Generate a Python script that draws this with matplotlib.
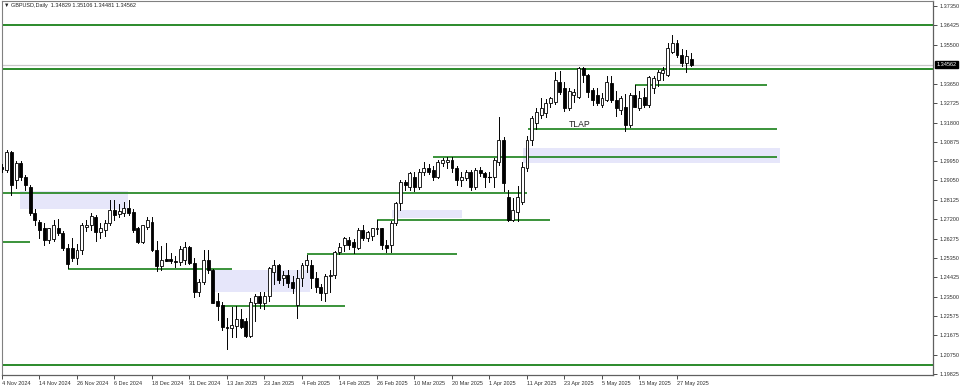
import matplotlib
matplotlib.use("Agg")
import matplotlib.pyplot as plt
from matplotlib.patches import Rectangle
from matplotlib import font_manager

plt.rcParams['font.family'] = ['Liberation Sans', 'DejaVu Sans']
names = {f.name for f in font_manager.fontManager.ttflist}
small_font = 'Liberation Sans Narrow' if 'Liberation Sans Narrow' in names else 'Liberation Sans'
small_size = 4.7 if small_font == 'Liberation Sans Narrow' else 4.0

# ---- data (GBPUSD daily, 4 Nov 2024 .. 30 May 2025) ----
opens = [1.2968, 1.2955, 1.3040, 1.2905, 1.2987, 1.2921, 1.2873, 1.2750, 1.2707, 1.2678,
         1.2621, 1.2625, 1.2678, 1.2654, 1.2583, 1.2585, 1.2535, 1.2572, 1.2683, 1.2690,
         1.2730, 1.2659, 1.2668, 1.2702, 1.2764, 1.2745, 1.2750, 1.2773, 1.2754, 1.2678,
         1.2611, 1.2683, 1.2707, 1.2573, 1.2497, 1.2530, 1.2530, 1.2522, 1.2518, 1.2525,
         1.2585, 1.2511, 1.2373, 1.2421, 1.2525, 1.2478, 1.2330, 1.2311, 1.2206, 1.2203,
         1.2211, 1.2244, 1.2235, 1.2164, 1.2321, 1.2354, 1.2321, 1.2354, 1.2468, 1.2502,
         1.2440, 1.2454, 1.2421, 1.2310, 1.2440, 1.2502, 1.2502, 1.2440, 1.2397, 1.2368,
         1.2450, 1.2455, 1.2564, 1.2597, 1.2621, 1.2611, 1.2583, 1.2668, 1.2630, 1.2640,
         1.2672, 1.2678, 1.2597, 1.2597, 1.2702, 1.2797, 1.2897, 1.2873, 1.2921, 1.2873,
         1.2945, 1.2964, 1.2954, 1.2921, 1.2988, 1.2990, 1.3002, 1.2964, 1.2907, 1.2916,
         1.2945, 1.2873, 1.2954, 1.2940, 1.2921, 1.2921, 1.2992, 1.3097, 1.2826, 1.2716,
         1.2754, 1.2802, 1.2964, 1.3097, 1.3178, 1.3216, 1.3225, 1.3273, 1.3278, 1.3373,
         1.3345, 1.3249, 1.3311, 1.3302, 1.3440, 1.3406, 1.3335, 1.3311, 1.3264, 1.3288,
         1.3368, 1.3288, 1.3240, 1.3254, 1.3168, 1.3311, 1.3249, 1.3300, 1.3264, 1.3345,
         1.3383, 1.3416, 1.3406, 1.3516, 1.3559, 1.3502, 1.3464, 1.34829]
highs = [1.2985, 1.3047, 1.3045, 1.2996, 1.2995, 1.2930, 1.2885, 1.2770, 1.2715, 1.2700,
         1.2680, 1.2715, 1.2720, 1.2665, 1.2600, 1.2630, 1.2600, 1.2700, 1.2715, 1.2750,
         1.2740, 1.2700, 1.2715, 1.2810, 1.2810, 1.2790, 1.2800, 1.2810, 1.2770, 1.2685,
         1.2690, 1.2730, 1.2730, 1.2615, 1.2590, 1.2605, 1.2560, 1.2545, 1.2590, 1.2610,
         1.2590, 1.2535, 1.2435, 1.2575, 1.2575, 1.2485, 1.2370, 1.2325, 1.2249, 1.2300,
         1.2306, 1.2290, 1.2250, 1.2345, 1.2365, 1.2375, 1.2375, 1.2490, 1.2525, 1.2505,
         1.2475, 1.2480, 1.2450, 1.2480, 1.2510, 1.2550, 1.2525, 1.2470, 1.2410, 1.2460,
         1.2480, 1.2570, 1.2605, 1.2635, 1.2635, 1.2625, 1.2680, 1.2690, 1.2665, 1.2680,
         1.2716, 1.2680, 1.2620, 1.2710, 1.2800, 1.2905, 1.2905, 1.2945, 1.2945, 1.2960,
         1.2990, 1.2985, 1.2975, 1.3000, 1.3010, 1.3015, 1.3015, 1.2975, 1.2945, 1.2955,
         1.2955, 1.2965, 1.2970, 1.2945, 1.2945, 1.3010, 1.3205, 1.3110, 1.2860, 1.2820,
         1.2880, 1.2990, 1.3115, 1.3210, 1.3250, 1.3295, 1.3290, 1.3300, 1.3421, 1.3425,
         1.3375, 1.3345, 1.3340, 1.3445, 1.3445, 1.3410, 1.3345, 1.3345, 1.3320, 1.3400,
         1.3400, 1.3330, 1.3305, 1.3315, 1.3320, 1.3357, 1.3330, 1.3345, 1.3400, 1.3400,
         1.3430, 1.3445, 1.3560, 1.3597, 1.3575, 1.3530, 1.3525, 1.35106]
lows = [1.2945, 1.2945, 1.2835, 1.2870, 1.2905, 1.2860, 1.2740, 1.2690, 1.2630, 1.2598,
        1.2605, 1.2615, 1.2645, 1.2575, 1.2487, 1.2520, 1.2505, 1.2555, 1.2665, 1.2670,
        1.2615, 1.2630, 1.2640, 1.2690, 1.2715, 1.2730, 1.2735, 1.2740, 1.2660, 1.2605,
        1.2605, 1.2675, 1.2570, 1.2475, 1.2478, 1.2520, 1.2510, 1.2490, 1.2500, 1.2505,
        1.2505, 1.2350, 1.2355, 1.2410, 1.2465, 1.2320, 1.2240, 1.2190, 1.2100, 1.2160,
        1.2160, 1.2200, 1.2160, 1.2160, 1.2235, 1.2295, 1.2290, 1.2330, 1.2410, 1.2415,
        1.2405, 1.2395, 1.2370, 1.2250, 1.2400, 1.2470, 1.2390, 1.2375, 1.2335, 1.2330,
        1.2375, 1.2440, 1.2555, 1.2570, 1.2580, 1.2560, 1.2578, 1.2620, 1.2615, 1.2620,
        1.2650, 1.2580, 1.2564, 1.2565, 1.2690, 1.2765, 1.2860, 1.2860, 1.2855, 1.2865,
        1.2930, 1.2935, 1.2905, 1.2915, 1.2975, 1.2965, 1.2945, 1.2885, 1.2880, 1.2905,
        1.2860, 1.2865, 1.2925, 1.2875, 1.2895, 1.2875, 1.2980, 1.2855, 1.2710, 1.2710,
        1.2710, 1.2790, 1.2950, 1.3075, 1.3150, 1.3200, 1.3205, 1.3255, 1.3270, 1.3315,
        1.3235, 1.3240, 1.3280, 1.3295, 1.3375, 1.3300, 1.3265, 1.3265, 1.3255, 1.3285,
        1.3280, 1.3210, 1.3220, 1.3140, 1.3160, 1.3255, 1.3240, 1.3255, 1.3255, 1.3320,
        1.3355, 1.3385, 1.3400, 1.3510, 1.3490, 1.3450, 1.3420, 1.34481]
closes = [1.2960, 1.3040, 1.2883, 1.2987, 1.2922, 1.2883, 1.2750, 1.2716, 1.2668, 1.2621,
          1.2678, 1.2690, 1.2654, 1.2583, 1.2505, 1.2535, 1.2572, 1.2690, 1.2690, 1.2735,
          1.2659, 1.2678, 1.2702, 1.2764, 1.2740, 1.2760, 1.2773, 1.2750, 1.2668, 1.2611,
          1.2690, 1.2716, 1.2573, 1.2497, 1.2525, 1.2520, 1.2522, 1.2518, 1.2580, 1.2585,
          1.2511, 1.2373, 1.2421, 1.2525, 1.2478, 1.2321, 1.2305, 1.2206, 1.2203, 1.2216,
          1.2244, 1.2206, 1.2164, 1.2326, 1.2354, 1.2321, 1.2354, 1.2487, 1.2502, 1.2430,
          1.2454, 1.2416, 1.2392, 1.2440, 1.2502, 1.2525, 1.2440, 1.2397, 1.2368, 1.2450,
          1.2455, 1.2564, 1.2588, 1.2630, 1.2597, 1.2588, 1.2668, 1.2630, 1.2660, 1.2678,
          1.2678, 1.2597, 1.2583, 1.2702, 1.2797, 1.2897, 1.2883, 1.2940, 1.2873, 1.2945,
          1.2964, 1.2945, 1.2921, 1.2992, 1.3002, 1.3000, 1.2964, 1.2907, 1.2920, 1.2945,
          1.2873, 1.2954, 1.2940, 1.2921, 1.2923, 1.3002, 1.3097, 1.2892, 1.2716, 1.2764,
          1.2826, 1.2968, 1.3097, 1.3202, 1.3230, 1.3249, 1.3273, 1.3297, 1.3383, 1.3326,
          1.3249, 1.3330, 1.3326, 1.3440, 1.3406, 1.3326, 1.3288, 1.3273, 1.3297, 1.3373,
          1.3288, 1.3249, 1.3297, 1.3168, 1.3311, 1.3254, 1.3297, 1.3264, 1.3397, 1.3392,
          1.3421, 1.3430, 1.3535, 1.3559, 1.3502, 1.3464, 1.3497, 1.34562]

date_labels = ["4 Nov 2024", "14 Nov 2024", "26 Nov 2024", "6 Dec 2024", "18 Dec 2024",
               "31 Dec 2024", "13 Jan 2025", "23 Jan 2025", "4 Feb 2025", "14 Feb 2025",
               "26 Feb 2025", "10 Mar 2025", "20 Mar 2025", "1 Apr 2025", "11 Apr 2025",
               "23 Apr 2025", "5 May 2025", "15 May 2025", "27 May 2025"]
price_ticks = [1.37350, 1.36425, 1.35500, 1.33650, 1.32725, 1.31800, 1.30875, 1.29950,
               1.29050, 1.28125, 1.27200, 1.26275, 1.25350, 1.24425, 1.23500, 1.22575,
               1.21675, 1.20750, 1.19825]
last_price = 1.34562

# horizontal levels
levels_full = [1.36425, 1.34350, 1.20250]
level_segments = [(1.33602, 135.0, 163.2), (1.31479, 112.2, 165.3), (1.30159, 91.9, 165.3),
                  (1.28445, -1.0, 112.0), (1.26112, -1.0, 6.0), (1.27160, 80.0, 116.9),
                  (1.25517, 65.0, 97.0), (1.24826, 14.1, 49.1), (1.23088, 47.0, 73.2)]
zones = [(3.8, 26.9, 1.2768, 1.2854), (44.8, 65.7, 1.2373, 1.2478),
         (83.2, 98.1, 1.2726, 1.2764), (111.2, 166.0, 1.2988, 1.3059)]

# ---- figure ----
W, H = 960, 388
fig = plt.figure(figsize=(W / 100, H / 100), dpi=100)
left_px, right_px, top_px, bot_px = 1.7, 933, 1, 375
ax = fig.add_axes([left_px / W, 1 - bot_px / H, (right_px - left_px) / W, (bot_px - top_px) / H])

spacing = 4.6875
x0_px = 2.0
ax.set_xlim((left_px - x0_px) / spacing, (right_px - x0_px) / spacing)
pp = 2100.0
ax.set_ylim(1.3735 - (bot_px - 6) / pp, 1.3735 + (6 - top_px) / pp)

green = '#2b8a2b'
for (xa, xb, ya, yb) in zones:
    ax.add_patch(Rectangle((xa, ya), xb - xa, yb - ya, facecolor='#e6e6fa', edgecolor='none', zorder=0))

ax.axhline(last_price, color='#c8c8c8', lw=0.9, zorder=1)
for p in levels_full:
    ax.axhline(p, color=green, lw=1.4, zorder=2)
for (p, xa, xb) in level_segments:
    ax.plot([xa, xb], [p, p], color=green, lw=1.3, zorder=2, solid_capstyle='butt')

n = len(closes)
bw = 0.62
for i in range(n):
    o, h, l, c = opens[i], highs[i], lows[i], closes[i]
    ax.plot([i, i], [l, h], color='black', lw=0.7, zorder=3)
    lo, hi = min(o, c), max(o, c)
    if hi - lo < 0.0002:
        ax.plot([i - bw / 2, i + bw / 2], [c, c], color='black', lw=0.8, zorder=4)
    else:
        fc = 'white' if c >= o else 'black'
        ax.add_patch(Rectangle((i - bw / 2, lo), bw, hi - lo, facecolor=fc,
                               edgecolor='black', lw=0.6, zorder=4))

ax.text(123.3, 1.3173, "TLAP", fontsize=6.2, ha='center', va='center', color='#202020', zorder=5)

# axes styling
for s in ['top', 'left']:
    ax.spines[s].set_color('#808080')
    ax.spines[s].set_linewidth(0.8)
for s in ['bottom', 'right']:
    ax.spines[s].set_color('#606060')
    ax.spines[s].set_linewidth(0.9)

ax.yaxis.tick_right()
ax.set_yticks(price_ticks)
ax.set_yticklabels([f"{p:.5f}" for p in price_ticks], family=small_font)
ax.tick_params(axis='y', direction='out', length=3, width=0.6, pad=2, labelsize=small_size,
               colors='#303030', left=False, right=True)

ax.set_xticks(list(range(0, 8 * len(date_labels), 8)))
ax.set_xticklabels(date_labels, ha='left', family=small_font)
ax.tick_params(axis='x', direction='out', length=3, width=0.6, pad=1.5, labelsize=small_size,
               colors='#303030')

ax.annotate(f"{last_price:.5f}", xy=(1.0, last_price), xycoords=('axes fraction', 'data'),
            xytext=(2.5, 0), textcoords='offset points', fontsize=small_size, color='white',
            va='center', ha='left', family=small_font,
            bbox=dict(boxstyle='square,pad=0.25', facecolor='black', edgecolor='black'))

fig.text(4 / W, 1 - 6 / H, "\u25bc GBPUSD,Daily  1.34829 1.35106 1.34481 1.34562",
         fontsize=small_size, va='center', ha='left', color='#202020',
         family=[small_font, 'DejaVu Sans'])

fig.savefig("out.png", dpi=100, facecolor='white')
